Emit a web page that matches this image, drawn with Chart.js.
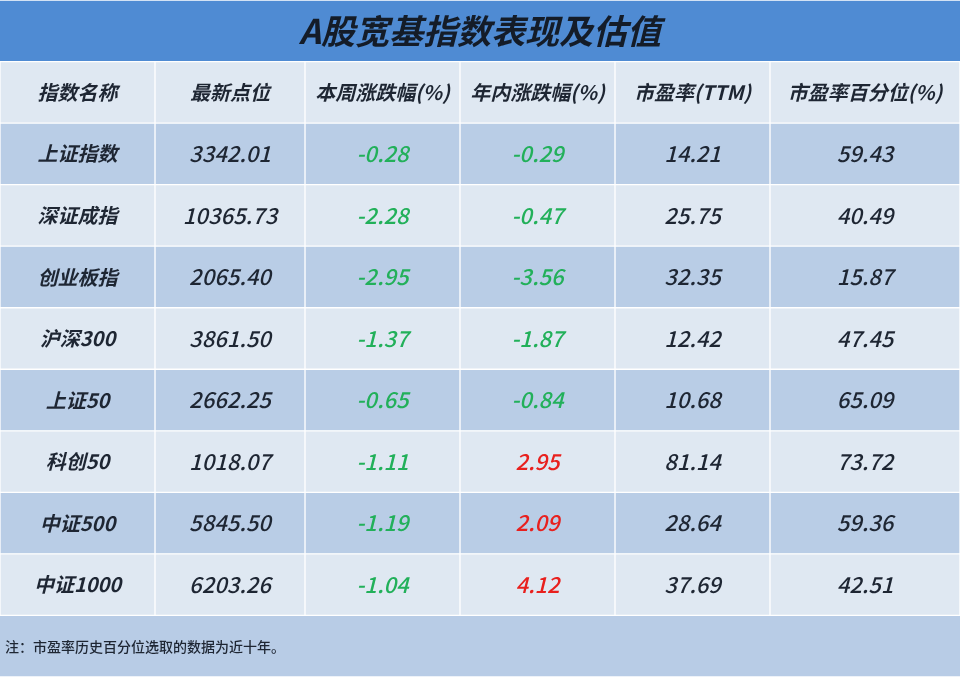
<!DOCTYPE html>
<html><head><meta charset="utf-8">
<script src="https://cdn.jsdelivr.net/npm/chart.js@4"></script>
<style>html,body{margin:0;padding:0;background:#fff}#w{width:960px;height:677px}</style>
</head><body><div id="w"><canvas id="c"></canvas></div>
<script>
const title = 'A股宽基指数表现及估值';
const headers = ['指数名称','最新点位','本周涨跌幅(%)','年内涨跌幅(%)','市盈率(TTM)','市盈率百分位(%)'];
const names = ['上证指数','深证成指','创业板指','沪深300','上证50','科创50','中证500','中证1000'];
const points = ['3342.01','10365.73','2065.40','3861.50','2662.25','1018.07','5845.50','6203.26'];
const weekChg = [-0.28,-2.28,-2.95,-1.37,-0.65,-1.11,-1.19,-1.04];
const ytdChg = [-0.29,-0.47,-3.56,-1.87,-0.84,2.95,2.09,4.12];
const pe = ['14.21','25.75','32.35','12.42','10.68','81.14','28.64','37.69'];
const pePct = ['59.43','40.49','15.87','47.45','65.09','73.72','59.36','42.51'];
const note = '注：市盈率历史百分位选取的数据为近十年。';
const colEdges = [0,155,305,460,615,770,960];

const rowKeys = ['title','header'].concat(names.map((_,i)=>'r'+i)).concat(['note']);
const rowColor = k => k==='title'?'#4f8bd3':k==='header'?'#dfe8f2':k==='note'?'#b8cce6':
  (parseInt(k.slice(1))%2===0?'#b9cde6':'#dfe8f2');
const cellText = [ [title], headers ];
for(let i=0;i<names.length;i++) cellText.push([names[i],points[i],weekChg[i].toFixed(2),ytdChg[i].toFixed(2),pe[i],pePct[i]]);
cellText.push([note]);

const datasets = [];
for(let c=0;c<6;c++){
  datasets.push({
    data: rowKeys.map(k => (k==='title'||k==='note') ? (c===0?[0,960]:null) : [colEdges[c],colEdges[c+1]]),
    backgroundColor: rowKeys.map(rowColor),
    borderColor: '#ffffff',
    borderWidth: rowKeys.map(k=>(k==='title'||k==='note')?{top:1,bottom:1,left:0,right:0}:{top:1,bottom:1,left:1,right:1}),
    borderSkipped: false,
    barPercentage: 1, categoryPercentage: 1
  });
}

const textPlugin = {
  id:'txt',
  afterDatasetsDraw(chart){
    const ctx = chart.ctx, xs = chart.scales.x, ys = chart.scales.y;
    ctx.save(); ctx.textBaseline='middle';
    rowKeys.forEach((k,r)=>{
      const y = ys.getPixelForValue(r);
      if(k==='title'){
        ctx.font='italic bold 34px "Noto Sans CJK SC"'; ctx.fillStyle='#141c28'; ctx.textAlign='center';
        ctx.fillText(cellText[r][0], xs.getPixelForValue(480), y);
      } else if(k==='note'){
        ctx.font='500 14px "Noto Sans CJK SC"'; ctx.fillStyle='#1e2633'; ctx.textAlign='left';
        ctx.fillText(cellText[r][0], xs.getPixelForValue(5), y);
      } else {
        cellText[r].forEach((t,c)=>{
          const cx = xs.getPixelForValue((colEdges[c]+colEdges[c+1])/2);
          ctx.textAlign='center';
          ctx.font = (c===0||k==='header') ? 'italic bold 20px "Noto Sans CJK SC"' : 'italic 500 22px "Noto Sans CJK SC"';
          let col='#1e2633';
          if(k!=='header' && (c===2||c===3)){ const v=parseFloat(t); col = v<0?'#22b05a':'#e8201e'; }
          ctx.fillStyle=col;
          ctx.fillText(t, cx, y);
        });
      }
    });
    ctx.restore();
  }
};

new Chart(document.getElementById('c'),{
  type:'bar',
  data:{labels:rowKeys, datasets},
  options:{
    indexAxis:'y', responsive:true, maintainAspectRatio:false, animation:false,
    layout:{padding:0},
    plugins:{legend:{display:false},tooltip:{enabled:false}},
    scales:{
      x:{type:'linear',min:0,max:960,display:false},
      y:{type:'category',display:false,grid:{display:false},offset:true}
    },
    grouped:false
  },
  plugins:[textPlugin]
});
</script></body></html>
